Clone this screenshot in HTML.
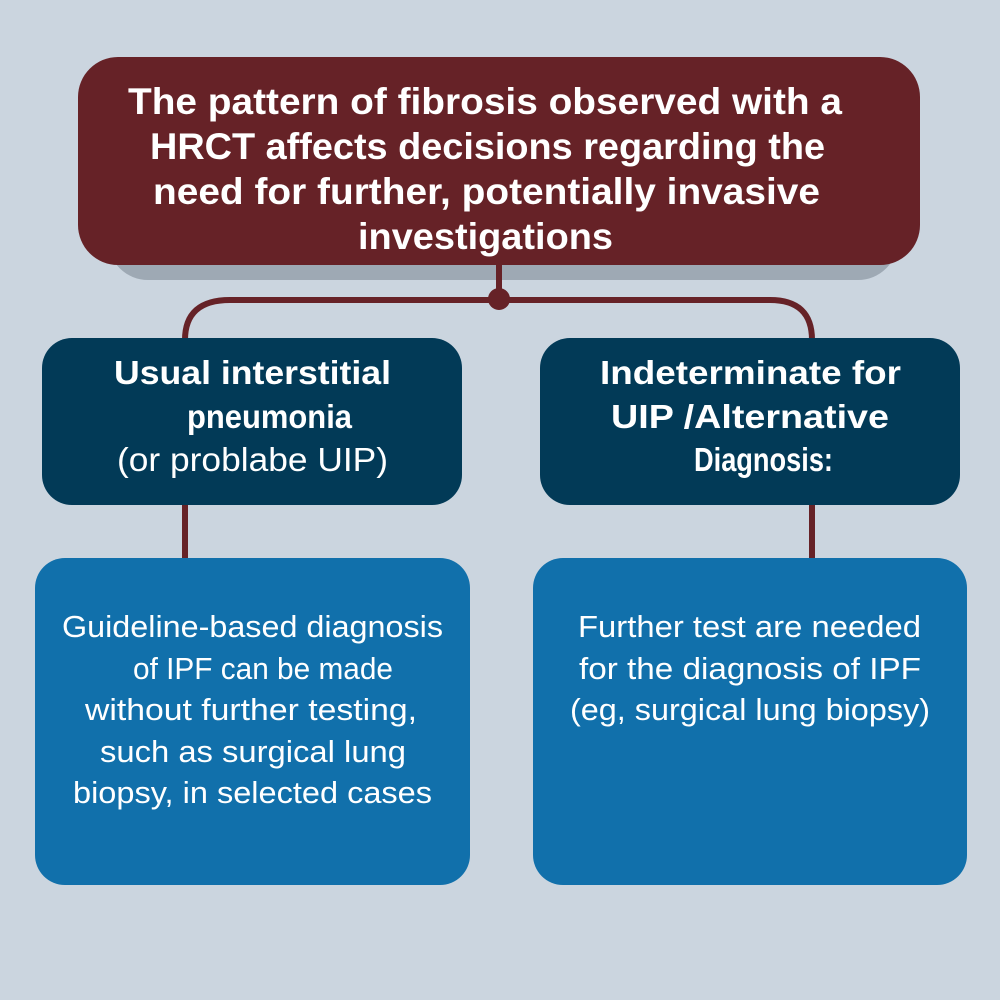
<!DOCTYPE html>
<html><head><meta charset="utf-8"><style>html,body{margin:0;padding:0;background:#cbd5df}svg{display:block}</style></head><body>
<svg width="1000" height="1000" viewBox="0 0 1000 1000" xmlns="http://www.w3.org/2000/svg" font-family="Liberation Sans, sans-serif">
<rect width="1000" height="1000" fill="#cbd5df"/>
<rect x="108" y="80" width="790" height="200" rx="40" fill="#9ea9b4"/>
<rect x="78" y="57" width="842" height="208" rx="40" fill="#662227"/>
<g fill="none" stroke="#662227" stroke-width="6">
<line x1="499" y1="262" x2="499" y2="300"/>
<path d="M185 340 Q185 300 230 300 L770 300 Q812 300 812 340"/>
<line x1="185" y1="500" x2="185" y2="560"/>
<line x1="812" y1="500" x2="812" y2="560"/>
</g>
<circle cx="499" cy="299" r="11" fill="#662227"/>
<rect x="42" y="338" width="420" height="167" rx="30" fill="#023a57"/>
<rect x="540" y="338" width="420" height="167" rx="30" fill="#023a57"/>
<rect x="35" y="558" width="435" height="327" rx="30" fill="#1170ab"/>
<rect x="533" y="558" width="434" height="327" rx="30" fill="#1170ab"/>
<g fill="#fff" font-weight="bold" font-size="37">
<text x="128" y="114" textLength="714" lengthAdjust="spacingAndGlyphs">The pattern of fibrosis observed  with a</text>
<text x="150" y="159" textLength="675" lengthAdjust="spacingAndGlyphs">HRCT affects decisions regarding the</text>
<text x="153" y="204" textLength="667" lengthAdjust="spacingAndGlyphs">need for further, potentially invasive</text>
<text x="358" y="249" textLength="255" lengthAdjust="spacingAndGlyphs">investigations</text>
</g>
<g fill="#fff" font-size="33">
<text x="114" y="384" font-weight="bold" textLength="277" lengthAdjust="spacingAndGlyphs">Usual interstitial</text>
<text x="187" y="428" font-weight="bold" textLength="165" lengthAdjust="spacingAndGlyphs">pneumonia</text>
<text x="117" y="471" textLength="271" lengthAdjust="spacingAndGlyphs">(or problabe UIP)</text>
<text x="600" y="384" font-weight="bold" textLength="301" lengthAdjust="spacingAndGlyphs">Indeterminate for</text>
<text x="611" y="428" font-weight="bold" textLength="278" lengthAdjust="spacingAndGlyphs">UIP /Alternative</text>
<text x="694" y="471" font-weight="bold" textLength="139" lengthAdjust="spacingAndGlyphs">Diagnosis:</text>
</g>
<g fill="#fff" font-size="31">
<text x="62" y="637" textLength="381" lengthAdjust="spacingAndGlyphs">Guideline-based diagnosis</text>
<text x="133" y="679" textLength="260" lengthAdjust="spacingAndGlyphs">of IPF can be made</text>
<text x="85" y="720" textLength="332" lengthAdjust="spacingAndGlyphs">without further testing,</text>
<text x="100" y="762" textLength="306" lengthAdjust="spacingAndGlyphs">such as surgical lung</text>
<text x="73" y="803" textLength="359" lengthAdjust="spacingAndGlyphs">biopsy, in selected cases</text>
<text x="578" y="637" textLength="343" lengthAdjust="spacingAndGlyphs">Further test are needed</text>
<text x="579" y="679" textLength="342" lengthAdjust="spacingAndGlyphs">for the diagnosis of IPF</text>
<text x="570" y="720" textLength="360" lengthAdjust="spacingAndGlyphs">(eg, surgical lung biopsy)</text>
</g>
</svg>
</body></html>
